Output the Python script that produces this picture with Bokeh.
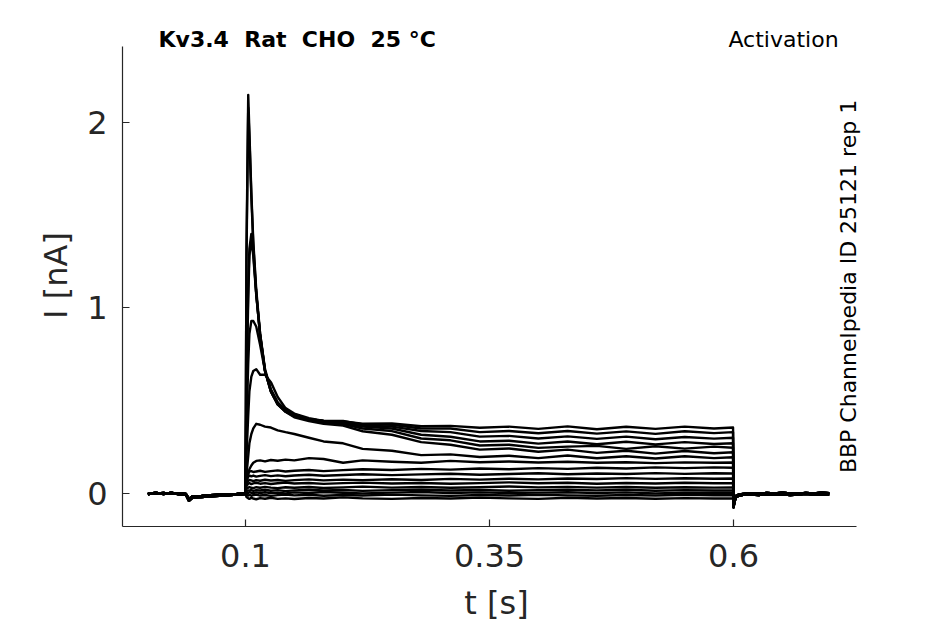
from bokeh.plotting import figure
from bokeh.models import Range1d, FixedTicker, Label
from bokeh.embed import file_html
from bokeh.resources import INLINE

# ---------------- data ----------------
x_ticks = [0.1, 0.35, 0.6]
x_tick_labels = ["0.1", "0.35", "0.6"]
y_ticks = [0, 1, 2]
y_tick_labels = ["0", "1", "2"]

# holding segment before the step (s, nA)
t_pre = [0.0, 0.008, 0.016, 0.024, 0.032, 0.039, 0.042, 0.046, 0.055, 0.064, 0.073, 0.082, 0.091, 0.0995]
hold_pre_a = [0.001, -0.002, 0.002, -0.003, 0.0, -0.004, -0.03, -0.016, -0.014, -0.01, -0.008, -0.006, -0.004, 0.0]
hold_pre_b = [-0.005, 0.004, -0.004, 0.003, -0.006, -0.008, -0.04, -0.022, -0.02, -0.016, -0.013, -0.01, -0.007, -0.004]

# test step
t_step = [0.1, 0.101, 0.1028, 0.104, 0.106, 0.108, 0.111, 0.115, 0.12, 0.126, 0.133, 0.141, 0.15, 0.165,
          0.18, 0.2, 0.22, 0.25, 0.28, 0.31, 0.34, 0.37, 0.40, 0.43, 0.46, 0.49, 0.52, 0.55, 0.58, 0.5995]

sweep_01 = [0.02, 1.30, 2.15, 1.95, 1.62, 1.36, 1.10, 0.86, 0.66, 0.55, 0.48, 0.44, 0.41, 0.39, 0.375,
            0.365, 0.335, 0.316, 0.276, 0.262, 0.236, 0.242, 0.224, 0.236, 0.218, 0.23, 0.214, 0.228, 0.216, 0.222]
sweep_02 = [0.02, 1.25, 2.08, 1.92, 1.60, 1.34, 1.08, 0.85, 0.66, 0.55, 0.48, 0.44, 0.415, 0.395, 0.38,
            0.374, 0.35, 0.336, 0.296, 0.286, 0.258, 0.262, 0.245, 0.252, 0.256, 0.24, 0.254, 0.241, 0.252, 0.246]
sweep_03 = [0.02, 0.60, 1.10, 1.32, 1.40, 1.30, 1.08, 0.85, 0.66, 0.55, 0.48, 0.445, 0.42, 0.40, 0.39,
            0.38, 0.36, 0.35, 0.316, 0.305, 0.28, 0.284, 0.268, 0.28, 0.265, 0.278, 0.264, 0.276, 0.266, 0.27]
sweep_04 = [0.02, 0.55, 1.05, 1.28, 1.37, 1.28, 1.07, 0.86, 0.67, 0.56, 0.49, 0.45, 0.42, 0.40, 0.39,
            0.384, 0.366, 0.36, 0.336, 0.33, 0.306, 0.31, 0.296, 0.307, 0.294, 0.306, 0.292, 0.304, 0.295, 0.30]
sweep_05 = [0.02, 0.35, 0.70, 0.86, 0.93, 0.93, 0.90, 0.80, 0.66, 0.56, 0.49, 0.45, 0.42, 0.40, 0.39,
            0.39, 0.372, 0.37, 0.35, 0.35, 0.33, 0.336, 0.324, 0.336, 0.322, 0.334, 0.321, 0.335, 0.325, 0.33]
sweep_06 = [0.02, 0.20, 0.42, 0.55, 0.63, 0.66, 0.67, 0.64, 0.64, 0.60, 0.52, 0.46, 0.43, 0.405, 0.39,
            0.388, 0.376, 0.377, 0.362, 0.364, 0.354, 0.36, 0.348, 0.361, 0.346, 0.359, 0.348, 0.36, 0.35, 0.355]
sweep_07 = [0.02, 0.10, 0.20, 0.27, 0.32, 0.35, 0.375, 0.37, 0.36, 0.355, 0.34, 0.33, 0.32, 0.30, 0.28,
            0.27, 0.24, 0.23, 0.206, 0.21, 0.196, 0.203, 0.19, 0.204, 0.189, 0.20, 0.188, 0.20, 0.19, 0.195]
sweep_08 = [0.02, 0.06, 0.10, 0.13, 0.15, 0.165, 0.175, 0.178, 0.172, 0.18, 0.176, 0.182, 0.178, 0.19, 0.185,
            0.165, 0.178, 0.17, 0.165, 0.175, 0.168, 0.172, 0.166, 0.17, 0.165, 0.168, 0.163, 0.167, 0.165, 0.166]
sweep_09 = [0.02, 0.08, 0.11, 0.118, 0.12, 0.115, 0.118, 0.122, 0.116, 0.12, 0.124, 0.118, 0.122, 0.126, 0.12,
            0.125, 0.13, 0.126, 0.132, 0.128, 0.134, 0.13, 0.136, 0.132, 0.138, 0.134, 0.14, 0.136, 0.14, 0.138]
sweep_10 = [0.01, 0.07, 0.09, 0.095, 0.092, 0.096, 0.09, 0.094, 0.098, 0.093, 0.097, 0.092, 0.096, 0.10, 0.095,
            0.099, 0.103, 0.098, 0.102, 0.106, 0.10, 0.104, 0.108, 0.103, 0.107, 0.104, 0.109, 0.105, 0.108, 0.107]
sweep_11 = [0.01, 0.05, 0.068, 0.072, 0.07, 0.066, 0.071, 0.068, 0.073, 0.069, 0.072, 0.067, 0.071, 0.075, 0.07,
            0.074, 0.071, 0.076, 0.072, 0.078, 0.074, 0.079, 0.075, 0.08, 0.077, 0.082, 0.078, 0.081, 0.079, 0.08]
sweep_12 = [0.005, 0.04, 0.052, 0.055, 0.05, 0.054, 0.057, 0.052, 0.055, 0.05, 0.054, 0.058, 0.053, 0.056, 0.051,
            0.055, 0.058, 0.053, 0.056, 0.052, 0.055, 0.059, 0.054, 0.057, 0.052, 0.056, 0.053, 0.057, 0.054, 0.055]
sweep_13 = [0.005, 0.025, 0.03, 0.034, 0.03, 0.028, 0.033, 0.03, 0.035, 0.031, 0.028, 0.033, 0.03, 0.034, 0.029,
            0.032, 0.036, 0.031, 0.034, 0.03, 0.033, 0.037, 0.032, 0.035, 0.031, 0.034, 0.03, 0.033, 0.031, 0.032]
sweep_14 = [0.0, 0.012, 0.016, 0.014, 0.018, 0.013, 0.017, 0.015, 0.019, 0.014, 0.017, 0.012, 0.016, 0.019, 0.015,
            0.018, 0.013, 0.017, 0.02, 0.015, 0.018, 0.014, 0.017, 0.02, 0.016, 0.019, 0.014, 0.017, 0.015, 0.016]
sweep_15 = [0.0, 0.004, 0.002, 0.006, 0.003, 0.0, 0.005, 0.002, 0.006, 0.001, 0.004, 0.0, 0.005, 0.002, 0.007,
            0.003, 0.0, 0.004, 0.007, 0.002, 0.005, 0.001, 0.004, 0.006, 0.002, 0.005, 0.0, 0.004, 0.003, 0.004]
sweep_16 = [0.0, -0.008, -0.012, -0.009, -0.013, -0.01, -0.007, -0.012, -0.009, -0.014, -0.01, -0.006, -0.011, -0.008, -0.013,
            -0.009, -0.012, -0.007, -0.011, -0.014, -0.009, -0.012, -0.008, -0.011, -0.013, -0.009, -0.012, -0.008, -0.01, -0.01]
sweep_17 = [0.0, -0.02, -0.026, -0.03, -0.025, -0.028, -0.032, -0.026, -0.029, -0.024, -0.03, -0.027, -0.031, -0.025, -0.028,
            -0.022, -0.027, -0.03, -0.025, -0.028, -0.023, -0.027, -0.03, -0.024, -0.028, -0.025, -0.029, -0.026, -0.028, -0.027]

# return to holding potential
t_post = [0.6, 0.6008, 0.6018, 0.603, 0.606, 0.61, 0.618, 0.626, 0.634, 0.642, 0.65, 0.658, 0.666, 0.674, 0.682, 0.69, 0.698]
tail_a = [-0.065, -0.045, -0.025, -0.012, -0.006, -0.003, 0.001, -0.002, 0.002, -0.001, 0.003, 0.0, -0.002, 0.002, 0.0, 0.003, 0.001]
tail_b = [-0.075, -0.05, -0.03, -0.018, -0.012, -0.008, -0.006, -0.009, -0.004, -0.008, -0.005, -0.009, -0.006, -0.003, -0.007, -0.004, -0.006]

sweeps = [sweep_01, sweep_02, sweep_03, sweep_04, sweep_05, sweep_06, sweep_07, sweep_08, sweep_09,
          sweep_10, sweep_11, sweep_12, sweep_13, sweep_14, sweep_15, sweep_16, sweep_17]

title_left = "Kv3.4\u00a0 Rat\u00a0 CHO\u00a0 25 °C"
title_right = "Activation"
side_note = "BBP Channelpedia ID 25121 rep 1"

# ---------------- figure ----------------
FONT = "DejaVu Sans"
INK = "#262626"
X_AXIS_SPAN = (-0.026, 0.726)
Y_AXIS_SPAN = (-0.179, 2.411)

p = figure(frame_width=748, frame_height=502,
           x_range=Range1d(-0.026, 0.7403), y_range=Range1d(-0.179, 2.5296),
           output_backend="svg", toolbar_location=None, tools="",
           min_border_left=122, min_border_right=56, min_border_top=24, min_border_bottom=96,
           background_fill_color="white", border_fill_color="white")
p.outline_line_color = None
p.xgrid.visible = False
p.ygrid.visible = False

for i, s in enumerate(sweeps):
    pre = hold_pre_a if i % 2 == 0 else hold_pre_b
    post = tail_a if i % 2 == 0 else tail_b
    p.line(t_pre + t_step + t_post, pre + s + post, line_color="black", line_width=2.4,
           line_join="round")

for ax in (p.xaxis[0], p.yaxis[0]):
    ax.axis_line_color = INK
    ax.axis_line_width = 1.2
    ax.major_tick_line_color = INK
    ax.major_tick_line_width = 1.2
    ax.major_tick_in = 7
    ax.major_tick_out = 0
    ax.minor_tick_line_color = None
    ax.major_label_text_font = FONT
    ax.major_label_text_font_size = "32px"
    ax.major_label_text_color = INK
    ax.axis_label_text_font = FONT
    ax.axis_label_text_font_size = "32px"
    ax.axis_label_text_font_style = "normal"
    ax.axis_label_text_color = INK

p.xaxis.bounds = X_AXIS_SPAN
p.yaxis.bounds = Y_AXIS_SPAN
p.xaxis.ticker = FixedTicker(ticks=x_ticks)
p.xaxis.major_label_overrides = dict(zip(x_ticks, x_tick_labels))
p.yaxis.ticker = FixedTicker(ticks=y_ticks)
p.yaxis.major_label_overrides = dict(zip(y_ticks, y_tick_labels))
p.xaxis.axis_label = "t [s]"
p.yaxis.axis_label = "I [nA]"
p.xaxis.major_label_standoff = 17
p.xaxis.axis_label_standoff = 14
p.yaxis.major_label_standoff = 15
p.yaxis.axis_label_standoff = 9

p.add_layout(Label(x=0.0109, y=2.449, text=title_left, text_font=FONT, text_font_size="22px",
                   text_font_style="bold", text_color="black", text_align="left",
                   text_baseline="alphabetic"))
p.add_layout(Label(x=0.7076, y=2.449, text=title_right, text_font=FONT, text_font_size="22px",
                   text_color="black", text_align="right", text_baseline="alphabetic"))
p.add_layout(Label(x=0.7178, y=0.109, text=side_note, text_font=FONT, text_font_size="22px",
                   text_color="black", text_align="left", text_baseline="alphabetic",
                   angle=1.5707963267948966))

open("out.html", "w").write(file_html(p, INLINE))
